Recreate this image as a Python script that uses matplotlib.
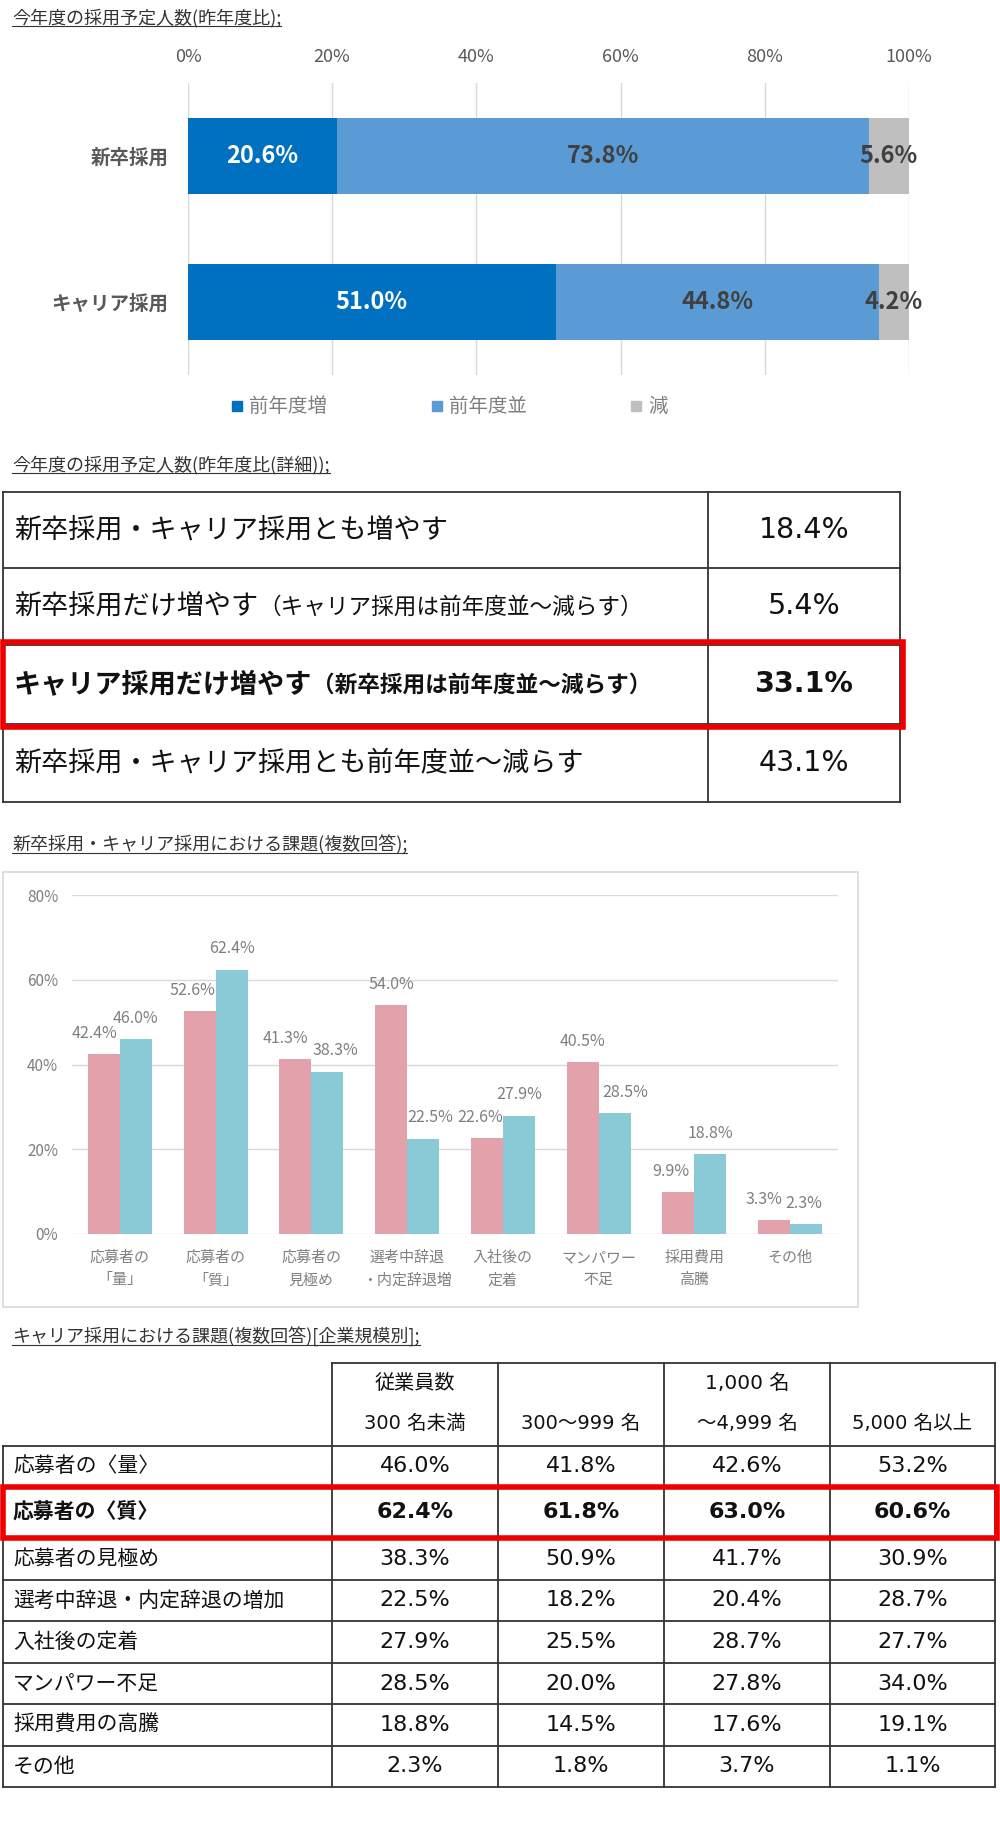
import numpy as np
import matplotlib
matplotlib.use("Agg")
import matplotlib.pyplot as plt
from matplotlib.patches import Rectangle

plt.rcParams["font.family"] = ["Noto Sans CJK JP", "DejaVu Sans"]
NUM_FONT = ["DejaVu Sans", "Noto Sans CJK JP"]

# ─── Data ────────────────────────────────────────────────────────────────────

# 今年度の採用予定人数(昨年度比)
plan_groups = ["新卒採用", "キャリア採用"]
plan_series = ["前年度増", "前年度並", "減"]
plan_up = [20.6, 51.0]
plan_same = [73.8, 44.8]
plan_down = [5.6, 4.2]

# 今年度の採用予定人数(昨年度比(詳細))
detail_main = ["新卒採用・キャリア採用とも増やす",
               "新卒採用だけ増やす",
               "キャリア採用だけ増やす",
               "新卒採用・キャリア採用とも前年度並～減らす"]
detail_note = ["", "（キャリア採用は前年度並～減らす）",
               "（新卒採用は前年度並～減らす）", ""]
detail_values = [18.4, 5.4, 33.1, 43.1]
detail_highlight = 2

# 新卒採用・キャリア採用における課題(複数回答)
issue_cats = ["応募者の\n「量」", "応募者の\n「質」", "応募者の\n見極め",
              "選考中辞退\n・内定辞退増", "入社後の\n定着", "マンパワー\n不足",
              "採用費用\n高騰", "その他"]
issue_new = [42.4, 52.6, 41.3, 54.0, 22.6, 40.5, 9.9, 3.3]
issue_career = [46.0, 62.4, 38.3, 22.5, 27.9, 28.5, 18.8, 2.3]

# キャリア採用における課題(複数回答)[企業規模別]
size_head1 = ["従業員数", "", "1,000 名", ""]
size_head2 = ["300 名未満", "300～999 名", "～4,999 名", "5,000 名以上"]
size_rows = ["応募者の〈量〉", "応募者の〈質〉", "応募者の見極め",
             "選考中辞退・内定辞退の増加", "入社後の定着", "マンパワー不足",
             "採用費用の高騰", "その他"]
size_lt300 = [46.0, 62.4, 38.3, 22.5, 27.9, 28.5, 18.8, 2.3]
size_300_999 = [41.8, 61.8, 50.9, 18.2, 25.5, 20.0, 14.5, 1.8]
size_1000_4999 = [42.6, 63.0, 41.7, 20.4, 28.7, 27.8, 17.6, 3.7]
size_5000 = [53.2, 60.6, 30.9, 28.7, 27.7, 34.0, 19.1, 1.1]
size_highlight = 1

# ─── Figure / helpers (pixel layout) ─────────────────────────────────────────

W, H = 1000, 1825
fig = plt.figure(figsize=(W / 100, H / 100), dpi=100)
fig.patch.set_facecolor("white")

over = fig.add_axes([0, 0, 1, 1], zorder=0)
over.set_xlim(0, W)
over.set_ylim(H, 0)
over.axis("off")


def ax_at(x0, y0, x1, y1):
    return fig.add_axes([x0 / W, 1 - y1 / H, (x1 - x0) / W, (y1 - y0) / H], zorder=2)


renderer = fig.canvas.get_renderer()


def text_width(t):
    return t.get_window_extent(renderer=renderer).width


def title(x, y, s):
    t = over.text(x, y, s, fontsize=13, color="#333333", va="center", ha="left")
    w = text_width(t)
    over.plot([x, x + w], [y + 8, y + 8], color="#333333", lw=0.8)


RED = "#EE0000"
LINE = "#333333"

# ─── 1. 今年度の採用予定人数(昨年度比) ───────────────────────────────────────

title(12, 18, "今年度の採用予定人数(昨年度比);")

ax1 = ax_at(188, 83, 909, 375)
colors1 = ["#0070C0", "#5B9BD5", "#BFBFBF"]
txtc1 = ["white", "#404040", "#404040"]
ypos = np.arange(len(plan_groups))
left = np.zeros(len(plan_groups))
for vals, name, c, tc in zip([plan_up, plan_same, plan_down], plan_series, colors1, txtc1):
    bars = ax1.barh(ypos, vals, left=left, height=0.52, color=c, label=name, zorder=3)
    ax1.bar_label(bars, labels=[f"{v:.1f}%" for v in vals], label_type="center",
                  color=tc, fontsize=17, fontweight="bold")
    left += np.array(vals)

ax1.set_xlim(0, 100)
ax1.set_ylim(1.5, -0.5)
ax1.xaxis.set_ticks_position("top")
ax1.set_xticks(np.arange(0, 101, 20), [f"{v}%" for v in range(0, 101, 20)],
               fontsize=13, color="#595959")
ax1.set_yticks(ypos, plan_groups, fontsize=14, fontweight="bold", color="#595959")
ax1.tick_params(axis="x", length=0, pad=12)
ax1.tick_params(axis="y", length=0, pad=14)
ax1.grid(axis="x", color="#D9D9D9", lw=1, zorder=0)
for s in ax1.spines.values():
    s.set_visible(False)

# legend drawn by hand at the reference positions
for name, c, lx in zip(plan_series, colors1, [232, 432, 631]):
    over.add_patch(Rectangle((lx, 401), 10, 10, color=c))
    over.text(lx + 17, 406, name, fontsize=14, color="#7F7F7F", va="center", ha="left")

# ─── 2. 詳細テーブル ─────────────────────────────────────────────────────────

title(12, 465, "今年度の採用予定人数(昨年度比(詳細));")

t1_rows = [492, 568, 645, 724, 802]
t1_left, t1_mid, t1_right = 3, 708, 900
for yy in t1_rows:
    over.plot([t1_left, t1_right], [yy, yy], color=LINE, lw=1.3)
for xx in [t1_left, t1_mid, t1_right]:
    over.plot([xx, xx], [t1_rows[0], t1_rows[-1]], color=LINE, lw=1.3)

for i, (main, note, val) in enumerate(zip(detail_main, detail_note, detail_values)):
    yc = (t1_rows[i] + t1_rows[i + 1]) / 2
    wt = "bold" if i == detail_highlight else "normal"
    t = over.text(14, yc, main, fontsize=19.5, color="#111111", va="center",
                  ha="left", fontweight=wt)
    if note:
        over.text(14 + text_width(t), yc + 1, note, fontsize=16.3, color="#111111",
                  va="center", ha="left", fontweight=wt)
    over.text((t1_mid + t1_right) / 2, yc, f"{val:.1f}%", fontsize=20.5,
              family=NUM_FONT, color="#111111", va="center", ha="center",
              fontweight=wt)

over.add_patch(Rectangle((3, 642), 900, 85, fill=False, edgecolor=RED, lw=4, zorder=5))

# ─── 3. 課題(複数回答) ───────────────────────────────────────────────────────

title(12, 845, "新卒採用・キャリア採用における課題(複数回答);")
over.add_patch(Rectangle((3, 872), 855, 435, fill=False, edgecolor="#D9D9D9", lw=1.2))

ax3 = ax_at(72, 895, 838, 1234)
pink, cyan = "#E3A1AB", "#89CAD6"
x = np.arange(len(issue_cats))
bw = 1 / 3
b_new = ax3.bar(x - bw / 2, issue_new, bw, color=pink, label="新卒採用", zorder=3)
b_car = ax3.bar(x + bw / 2, issue_career, bw, color=cyan, label="キャリア採用", zorder=3)

# small horizontal nudges (px) like the reference, where labels would collide
dx_new = [-9, -7, -10, 0, -7, 0, -8, -10]
dx_car = [0, 0, 8, 7, 0, 11, 0, -2]
for bars, vals, dxs in [(b_new, issue_new, dx_new), (b_car, issue_career, dx_car)]:
    for b, v, dx in zip(bars, vals, dxs):
        ax3.annotate(f"{v:.1f}%", (b.get_x() + b.get_width() / 2, v),
                     xytext=(dx * 0.72, 15), textcoords="offset points",
                     ha="center", va="center", fontsize=11.5, color="#7F7F7F")

ax3.set_xlim(-0.5, len(issue_cats) - 0.5)
ax3.set_ylim(0, 80)
ax3.set_yticks(np.arange(0, 81, 20), [f"{v}%" for v in range(0, 81, 20)],
               fontsize=11, color="#7F7F7F")
ax3.set_xticks(x, issue_cats, fontsize=10.8, color="#808080", linespacing=1.75)
ax3.tick_params(axis="both", length=0)
ax3.tick_params(axis="y", pad=10)
ax3.tick_params(axis="x", pad=12)
ax3.grid(axis="y", color="#D9D9D9", lw=1, zorder=0)
for s in ax3.spines.values():
    s.set_visible(False)

for name, c, ly in zip(["新卒採用", "キャリア採用"], [pink, cyan], [915, 951]):
    over.add_patch(Rectangle((706, ly - 4), 7, 8, color=c))
    over.text(718, ly, name, fontsize=11, color="#7F7F7F", va="center", ha="left")

# ─── 4. 企業規模別テーブル ───────────────────────────────────────────────────

title(12, 1337, "キャリア採用における課題(複数回答)[企業規模別];")

cols_x = [3, 332, 498, 664, 830, 995]
head_top = 1363
rows_y = [1446, 1487, 1538, 1580, 1621, 1663, 1704, 1746, 1787]

over.plot([cols_x[1], cols_x[-1]], [head_top, head_top], color=LINE, lw=1.3)
for yy in rows_y:
    over.plot([cols_x[0], cols_x[-1]], [yy, yy], color=LINE, lw=1.3)
over.plot([cols_x[0], cols_x[0]], [rows_y[0], rows_y[-1]], color=LINE, lw=1.3)
for xx in cols_x[1:]:
    over.plot([xx, xx], [head_top, rows_y[-1]], color=LINE, lw=1.3)

col_centers = [(a + b) / 2 for a, b in zip(cols_x[1:-1], cols_x[2:])]
for cx, h1, h2 in zip(col_centers, size_head1, size_head2):
    if h1:
        over.text(cx, 1383, h1, fontsize=14.5, family=NUM_FONT, color="#111111",
                  va="center", ha="center")
    over.text(cx, 1423, h2, fontsize=14, family=NUM_FONT, color="#111111",
              va="center", ha="center")

size_cols = [size_lt300, size_300_999, size_1000_4999, size_5000]
for i, name in enumerate(size_rows):
    yc = (rows_y[i] + rows_y[i + 1]) / 2
    wt = "bold" if i == size_highlight else "normal"
    over.text(13, yc, name, fontsize=15, color="#111111", va="center", ha="left",
              fontweight=wt)
    for cx, col in zip(col_centers, size_cols):
        over.text(cx, yc, f"{col[i]:.1f}%", fontsize=16, family=NUM_FONT,
                  color="#111111", va="center", ha="center", fontweight=wt)

over.add_patch(Rectangle((3, rows_y[size_highlight]), 994,
                         rows_y[size_highlight + 1] - rows_y[size_highlight],
                         fill=False, edgecolor=RED, lw=4, zorder=5))

fig.savefig("out.png", dpi=100)
